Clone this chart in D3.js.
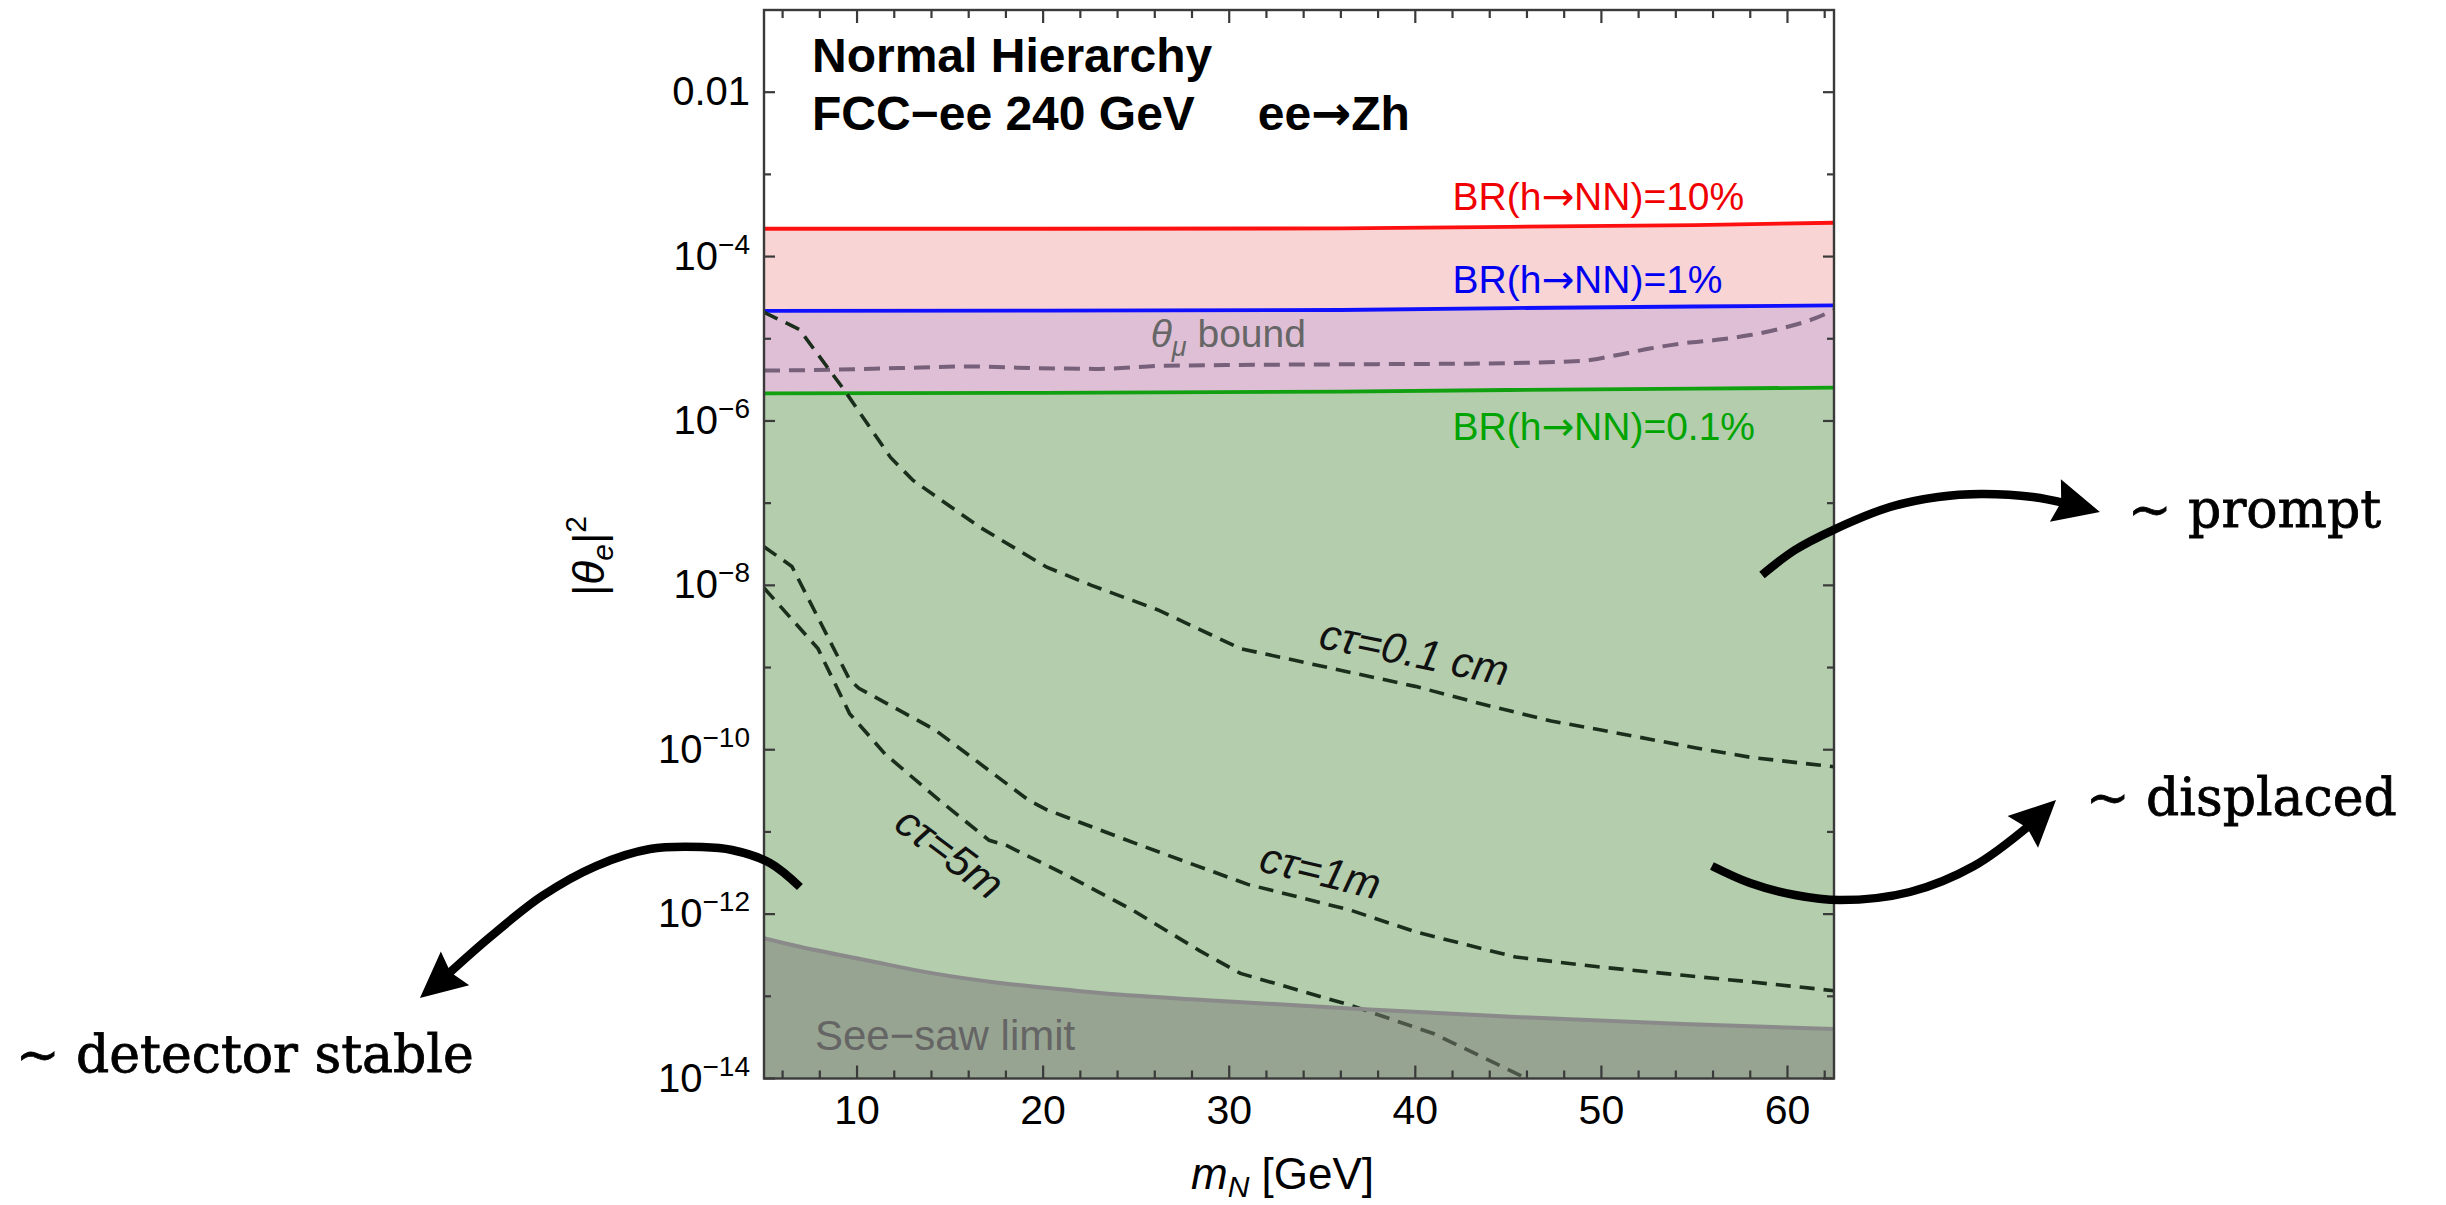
<!DOCTYPE html>
<html><head><meta charset="utf-8">
<script src="https://cdn.jsdelivr.net/npm/d3@7"></script>
<style>html,body{margin:0;padding:0;background:#fff;} svg{display:block;}</style>
</head><body>
<svg id="chart" width="2446" height="1205"></svg>
<script>
// ---------------- data ----------------
const brMass = [5, 20, 36, 45, 55, 62.5];
const br10  = [2.18e-4, 2.18e-4, 2.2e-4, 2.3e-4, 2.42e-4, 2.58e-4];
const br1   = [2.19e-5, 2.2e-5, 2.24e-5, 2.36e-5, 2.47e-5, 2.55e-5];
const br01  = [2.17e-6, 2.2e-6, 2.27e-6, 2.38e-6, 2.48e-6, 2.54e-6];

const thetaMuMass = [5, 8.7, 12.3, 15.9, 19.4, 23.0, 26.6, 37.0, 43.6, 49.0, 50.8, 52.6, 54.4, 56.2, 58.0, 59.7, 61.5, 62.5];
const thetaMuVal  = [4.1e-6, 4.2e-6, 4.4e-6, 4.6e-6, 4.4e-6, 4.3e-6, 4.7e-6, 4.9e-6, 5.0e-6, 5.4e-6, 6.3e-6, 7.6e-6, 8.8e-6, 9.7e-6, 1.11e-5, 1.34e-5, 1.78e-5, 2.24e-5];

const ct01Mass = [5, 6.9, 9.3, 11.8, 13.0, 16.6, 20.2, 22.6, 26.2, 30.6, 35.3, 40.0, 44.0, 47.3, 50.7, 55.1, 58.0, 62.5];
const ct01Val  = [2.1e-5, 1.3e-5, 2.4e-6, 3.6e-7, 1.9e-7, 5.1e-8, 1.66e-8, 1.0e-8, 5.0e-9, 1.7e-9, 1.0e-9, 5.9e-10, 3.4e-10, 2.24e-10, 1.62e-10, 1.05e-10, 8.1e-11, 6.2e-11];

const ct1mMass = [5, 6.5, 9.6, 10.1, 14.2, 19.2, 20.2, 25.0, 31.0, 36.5, 40.1, 45.4, 49.7, 54.4, 58.0, 62.5];
const ct1mVal  = [2.95e-8, 1.7e-8, 7.1e-10, 5.6e-10, 1.74e-10, 2.45e-11, 1.86e-11, 7.2e-12, 2.3e-12, 1.12e-12, 6.0e-13, 3.0e-13, 2.3e-13, 1.8e-13, 1.5e-13, 1.17e-13];

const ct5mMass = [5, 7.9, 9.6, 11.5, 14.4, 17.1, 18.0, 21.3, 24.8, 28.4, 30.6, 36.5, 41.0, 45.8, 46.5];
const ct5mVal  = [9.3e-9, 1.7e-9, 2.75e-10, 8.9e-11, 2.45e-11, 7.9e-12, 6.9e-12, 2.95e-12, 1.12e-12, 3.6e-13, 1.9e-13, 7.8e-14, 3.5e-14, 1.05e-14, 8.5e-15];

const seesawMass = [5, 6.93, 10.5, 14.1, 17.7, 21.3, 24.8, 28.4, 36.5, 45.4, 54.4, 62.5];
const seesawVal  = [5.1e-13, 4.0e-13, 2.75e-13, 1.9e-13, 1.45e-13, 1.2e-13, 1.02e-13, 9.1e-14, 7.1e-14, 5.6e-14, 4.6e-14, 4.0e-14];

const xTickValues = [10, 20, 30, 40, 50, 60];
const xMinorTicks = [6, 8, 12, 14, 16, 18, 22, 24, 26, 28, 32, 34, 36, 38, 42, 44, 46, 48, 52, 54, 56, 58, 62];
const yTickValues = [1e-2, 1e-4, 1e-6, 1e-8, 1e-10, 1e-12, 1e-14];
const yTickBase   = ["0.01", "10", "10", "10", "10", "10", "10"];
const yTickExp    = ["", "\u22124", "\u22126", "\u22128", "\u221210", "\u221212", "\u221214"];
const yMinorTicks = [1e-3, 1e-5, 1e-7, 1e-9, 1e-11, 1e-13];

// annotation arrows: [mass, log10(theta^2)] points (extrapolated through the scales)
const promptArc = [[58.63,-7.874],[60.40,-7.570],[62.45,-7.327],[65.51,-7.047],[68.09,-6.925],[70.40,-6.889],[73.19,-6.925],[75.13,-7.011]];
const promptTip = [76.79,-7.108];
const displacedArc = [[55.94,-11.415],[57.99,-11.622],[60.40,-11.768],[62.82,-11.829],[66.58,-11.731],[70.02,-11.415],[73.03,-10.916]];
const displacedTip = [74.43,-10.612];
const detectorArc = [[6.93,-11.670],[5.32,-11.378],[3.28,-11.220],[1.67,-11.184],[-1.13,-11.208],[-4.03,-11.415],[-6.93,-11.780],[-9.72,-12.279],[-12.09,-12.753]];
const detectorTip = [-13.49,-13.021];

// ---------------- scales ----------------
const svg = d3.select("#chart");
const x = d3.scaleLinear().domain([5, 62.5]).range([764, 1834]);
const y = d3.scaleLog().domain([1e-14, 0.1]).range([1078.5, 10]);
const X0 = x(5), X1 = x(62.5), Y0 = y(1e-14), Y1 = y(0.1);
const SANS = "'Liberation Sans', Arial, Helvetica, sans-serif";
const ARROWF = "'DejaVu Sans', sans-serif";
const SERIF = "'DejaVu Serif', 'Liberation Serif', serif";

svg.append("rect").attr("width", 2446).attr("height", 1205).attr("fill", "#fff");

svg.append("defs").append("clipPath").attr("id", "plotclip")
  .append("rect").attr("x", X0).attr("y", Y1).attr("width", X1 - X0).attr("height", Y0 - Y1);

const plot = svg.append("g").attr("clip-path", "url(#plotclip)");

const idx = brMass.map((d, i) => i);
// bands
plot.append("path").attr("fill", "#f8d4d5")
  .attr("d", d3.area().x(i => x(brMass[i])).y0(i => y(br1[i])).y1(i => y(br10[i]))(idx));
plot.append("path").attr("fill", "#dfbfd6")
  .attr("d", d3.area().x(i => x(brMass[i])).y0(i => y(br01[i])).y1(i => y(br1[i]))(idx));
plot.append("path").attr("fill", "#b3cdad")
  .attr("d", d3.area().x(i => x(brMass[i])).y0(() => y(1e-14)).y1(i => y(br01[i]))(idx));

// theta_mu bound
const tmIdx = thetaMuMass.map((d, i) => i);
plot.append("path").attr("fill", "none").attr("stroke", "#76607a").attr("stroke-width", 4)
  .attr("stroke-dasharray", "16,9")
  .attr("d", d3.line().curve(d3.curveMonotoneX).x(i => x(thetaMuMass[i])).y(i => y(thetaMuVal[i]))(tmIdx));

// BR lines
const brLine = arr => d3.line().x(i => x(brMass[i])).y(i => y(arr[i]))(idx);
plot.append("path").attr("fill", "none").attr("stroke", "#ff1010").attr("stroke-width", 3.8).attr("d", brLine(br10));
plot.append("path").attr("fill", "none").attr("stroke", "#1010ff").attr("stroke-width", 3.8).attr("d", brLine(br1));
plot.append("path").attr("fill", "none").attr("stroke", "#10a010").attr("stroke-width", 3.8).attr("d", brLine(br01));

// lifetime contours
function ctLine(ms, vs) {
  const ii = ms.map((d, i) => i);
  plot.append("path").attr("fill", "none").attr("stroke", "#1b2e1b").attr("stroke-width", 3.6)
    .attr("stroke-dasharray", "15,9")
    .attr("d", d3.line().x(i => x(ms[i])).y(i => y(vs[i]))(ii));
}
ctLine(ct01Mass, ct01Val);
ctLine(ct1mMass, ct1mVal);
ctLine(ct5mMass, ct5mVal);

// see-saw limit overlay
const ssIdx = seesawMass.map((d, i) => i);
plot.append("path").attr("fill", "#7b7b76").attr("fill-opacity", 0.5)
  .attr("d", d3.area().curve(d3.curveMonotoneX).x(i => x(seesawMass[i])).y0(() => y(1e-14)).y1(i => y(seesawVal[i]))(ssIdx));
plot.append("path").attr("fill", "none").attr("stroke", "#8a8a8a").attr("stroke-width", 4)
  .attr("d", d3.line().curve(d3.curveMonotoneX).x(i => x(seesawMass[i])).y(i => y(seesawVal[i]))(ssIdx));

// ---------------- in-plot labels ----------------
const L = (m, l) => [x(m), y(Math.pow(10, l))];

// text with "→" drawn in a font that has a full-size arrow
function arrowText(m, l, parts, opts) {
  const p = L(m, l);
  const t = svg.append("text").attr("x", p[0]).attr("y", p[1])
    .attr("font-family", SANS).attr("font-size", opts.size)
    .attr("font-weight", opts.weight || "normal").attr("fill", opts.fill || "#000");
  parts.forEach(s => {
    if (s === "\u2192") t.append("tspan").attr("font-family", ARROWF).text(s);
    else t.append("tspan").text(s);
  });
  return t;
}
function txt(m, l, s, opts) {
  const p = L(m, l);
  return svg.append("text").attr("x", p[0]).attr("y", p[1]).text(s)
    .attr("font-family", opts.family || SANS).attr("font-size", opts.size)
    .attr("font-weight", opts.weight || "normal").attr("fill", opts.fill || "#000")
    .attr("font-style", opts.style || "normal");
}
txt(7.58, -1.754, "Normal Hierarchy", {size: 48, weight: "bold"});
txt(7.58, -2.460, "FCC\u2212ee 240 GeV", {size: 48, weight: "bold"});
arrowText(31.53, -2.460, ["ee", "\u2192", "Zh"], {size: 48, weight: "bold"});

arrowText(42.0, -3.434, ["BR(h", "\u2192", "NN)=10%"], {size: 39, fill: "#f00000"});
arrowText(42.0, -4.444, ["BR(h", "\u2192", "NN)=1%"], {size: 39, fill: "#0000f0"});
arrowText(42.0, -6.232, ["BR(h", "\u2192", "NN)=0.1%"], {size: 39, fill: "#00a400"});

{
  const p = L(25.78, -5.10);
  const t = svg.append("text").attr("x", p[0]).attr("y", p[1]).attr("font-family", SANS)
    .attr("font-size", 39).attr("fill", "#666");
  t.append("tspan").attr("font-style", "italic").text("\u03b8");
  t.append("tspan").attr("font-style", "italic").attr("font-size", 27).attr("dy", 9).text("\u03bc");
  t.append("tspan").attr("dy", -9).text(" bound");
}

function rotLabel(m, l, angle, s) {
  const p = L(m, l);
  svg.append("text").attr("transform", `translate(${p[0]},${p[1]}) rotate(${angle})`)
    .attr("text-anchor", "middle").attr("dy", "0.35em")
    .attr("font-family", SANS).attr("font-size", 43).attr("font-style", "italic").attr("fill", "#111")
    .text(s);
}
rotLabel(39.96, -8.81, 11.6, "c\u03c4=0.1 cm");
rotLabel(34.91, -11.47, 13.6, "c\u03c4=1m");
rotLabel(14.99, -11.25, 37, "c\u03c4=5m");

txt(7.74, -13.655, "See\u2212saw limit", {size: 42, fill: "#656565"});

// ---------------- axes ----------------
const axG = svg.append("g");
axG.append("rect").attr("x", X0).attr("y", Y1).attr("width", X1 - X0).attr("height", Y0 - Y1)
  .attr("fill", "none").attr("stroke", "#3a3a3a").attr("stroke-width", 2.4);

function vt(xx, y0, len) { axG.append("line").attr("x1", xx).attr("x2", xx).attr("y1", y0).attr("y2", y0 + len).attr("stroke", "#3a3a3a").attr("stroke-width", 2.2); }
function ht(yy, x0, len) { axG.append("line").attr("y1", yy).attr("y2", yy).attr("x1", x0).attr("x2", x0 + len).attr("stroke", "#3a3a3a").attr("stroke-width", 2.2); }
xTickValues.forEach(v => { vt(x(v), Y0, -13); vt(x(v), Y1, 13); });
xMinorTicks.forEach(v => { vt(x(v), Y0, -8); vt(x(v), Y1, 8); });
yTickValues.forEach(v => { ht(y(v), X0, 11); ht(y(v), X1, -11); });
yMinorTicks.forEach(v => { ht(y(v), X0, 7); ht(y(v), X1, -7); });

xTickValues.forEach(v => {
  axG.append("text").attr("x", x(v)).attr("y", Y0 + 45).attr("text-anchor", "middle")
    .attr("font-family", SANS).attr("font-size", 41).text(v);
});
yTickValues.forEach((v, i) => {
  const t = axG.append("text").attr("x", 750).attr("y", y(v) + 13).attr("text-anchor", "end")
    .attr("font-family", SANS).attr("font-size", 40);
  t.append("tspan").text(yTickBase[i]);
  if (yTickExp[i]) t.append("tspan").attr("font-size", 28).attr("dy", -16).text(yTickExp[i]);
});

// axis titles
{
  const t = svg.append("text").attr("x", 1191).attr("y", 1189).attr("font-family", SANS).attr("font-size", 44);
  t.append("tspan").attr("font-style", "italic").text("m");
  t.append("tspan").attr("font-style", "italic").attr("font-size", 30).attr("dy", 8).text("N");
  t.append("tspan").attr("dy", -8).text(" [GeV]");
}
{
  const t = svg.append("text").attr("transform", "translate(604,556) rotate(-90)").attr("text-anchor", "middle")
    .attr("font-family", SANS).attr("font-size", 44);
  t.append("tspan").text("|");
  t.append("tspan").attr("font-style", "italic").text("\u03b8");
  t.append("tspan").attr("font-style", "italic").attr("font-size", 30).attr("dy", 9).text("e");
  t.append("tspan").attr("dy", -9).text("|");
  t.append("tspan").attr("font-size", 30).attr("dy", -18).text("2");
}

// ---------------- annotation arrows ----------------
const ann = svg.append("g");
function arrow(arc, tip) {
  const pts = arc.map(d => L(d[0], d[1]));
  ann.append("path").attr("fill", "none").attr("stroke", "#000").attr("stroke-width", 8.5)
    .attr("d", d3.line().curve(d3.curveCatmullRom)(pts));
  const B = pts[pts.length - 1], T = L(tip[0], tip[1]);
  const dx = T[0] - B[0], dy = T[1] - B[1], n = Math.hypot(dx, dy);
  const ux = dx / n, uy = dy / n, px = -uy, py = ux, w = 22, len = 46;
  const bx = T[0] - ux * len, by = T[1] - uy * len;
  ann.append("path").attr("fill", "#000")
    .attr("d", `M${T[0]},${T[1]}L${bx + px * w},${by + py * w}L${bx + ux * 6},${by + uy * 6}L${bx - px * w},${by - py * w}Z`);
}
arrow(promptArc, promptTip);
arrow(displacedArc, displacedTip);
arrow(detectorArc, detectorTip);

function serifText(m, l, s) {
  txt(m, l, s, {size: 52, family: SERIF}).attr("stroke", "#000").attr("stroke-width", 0.8);
}
serifText(78.30, -7.290, "~ prompt");
serifText(76.04, -10.794, "~ displaced");
serifText(-35.20, -13.921, "~ detector stable");
</script>
</body></html>
